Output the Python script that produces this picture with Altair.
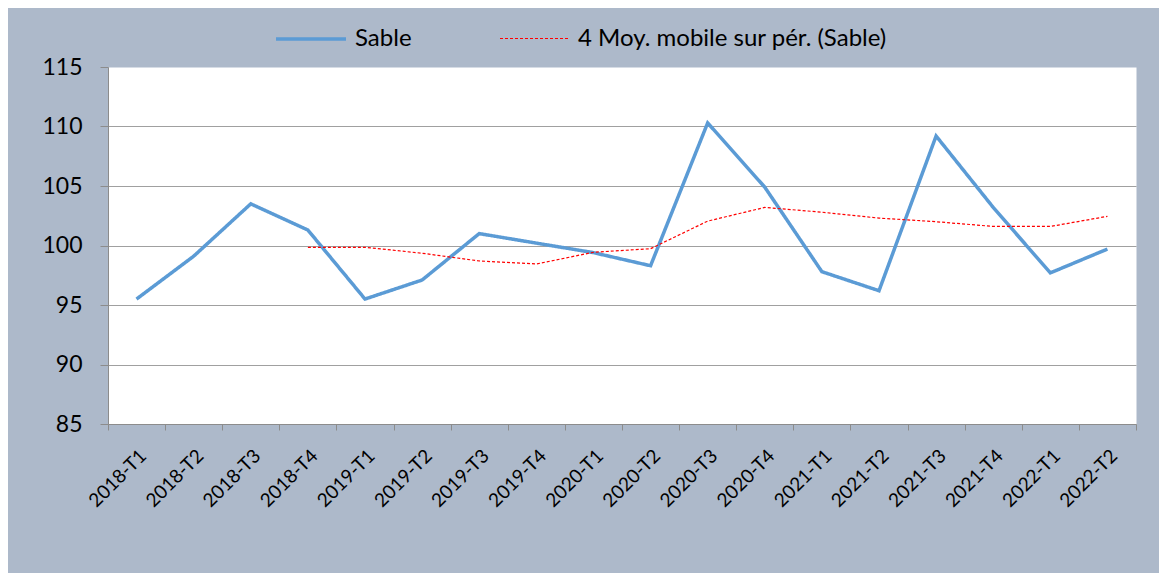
import altair as alt
import pandas as pd

quarters = ["2018-T1", "2018-T2", "2018-T3", "2018-T4",
            "2019-T1", "2019-T2", "2019-T3", "2019-T4",
            "2020-T1", "2020-T2", "2020-T3", "2020-T4",
            "2021-T1", "2021-T2", "2021-T3", "2021-T4",
            "2022-T1", "2022-T2"]
sable = [95.5, 99.1, 103.5, 101.3, 95.5, 97.1, 101.0, 100.2, 99.4,
         98.3, 110.3, 104.9, 97.8, 96.2, 109.2, 103.2, 97.7, 99.7]
ma_quarters = quarters[3:]
moy_mobile = [99.85, 99.85, 99.35, 98.7, 98.45, 99.43, 99.73, 102.05,
              103.2, 102.8, 102.3, 102.0, 101.6, 101.6, 102.45]

s1 = "Sable"
s2 = "4 Moy. mobile sur pér. (Sable)"
series = [s1, s2]

rows = [{"trimestre": q, "valeur": v, "serie": s1} for q, v in zip(quarters, sable)]
rows += [{"trimestre": q, "valeur": v, "serie": s2} for q, v in zip(ma_quarters, moy_mobile)]
df = pd.DataFrame(rows)

FONT = "Lato"
AX = "#8C8C8C"

legend = alt.Legend(
    orient="none", legendX=166, legendY=-65, direction="horizontal",
    title=None, symbolType="stroke", symbolSize=4900,
    labelFont=FONT, labelFontSize=24, labelColor="black", labelLimit=0,
    columnPadding=85, labelOffset=7, padding=0,
)

chart = alt.Chart(df).mark_line().encode(
    x=alt.X("trimestre:N", sort=quarters, bandPosition=0.5,
            scale=alt.Scale(type="band", domain=quarters, paddingInner=0, paddingOuter=0),
            axis=alt.Axis(title=None, labelAngle=-45, labelFont=FONT, labelFontSize=19,
                          labelColor="black", tickSize=6, tickBand="extent", labelLimit=0,
                          tickColor=AX, domainColor=AX, grid=False, labelPadding=16)),
    y=alt.Y("valeur:Q",
            scale=alt.Scale(domain=[85, 115], nice=False, zero=False),
            axis=alt.Axis(title=None, values=[85, 90, 95, 100, 105, 110, 115],
                          labelFont=FONT, labelFontSize=23, labelColor="black",
                          tickSize=8, tickColor=AX, domainColor=AX, labelPadding=18,
                          gridColor={"condition": {"test": "datum.value === 115", "value": "transparent"},
                                     "value": "#A0A0A0"})),
    color=alt.Color("serie:N", sort=series,
                    scale=alt.Scale(domain=series, range=["#5B9BD5", "#FF0000"]),
                    legend=legend),
    strokeDash=alt.StrokeDash("serie:N", sort=series,
                              scale=alt.Scale(domain=series, range=[[1, 0], [3, 2]]),
                              legend=legend),
    strokeWidth=alt.StrokeWidth("serie:N", sort=series,
                                scale=alt.Scale(domain=series, range=[3.5, 1.2]),
                                legend=legend),
).properties(
    width=1028, height=357,
    autosize=alt.AutoSizeParams(type="none"),
    padding={"left": 100, "top": 59, "right": 23, "bottom": 149},
    background="#ADB9CA",
).configure_view(fill="white", stroke="transparent")

chart.save("out.html", embed_options={"renderer": "svg", "actions": False})
